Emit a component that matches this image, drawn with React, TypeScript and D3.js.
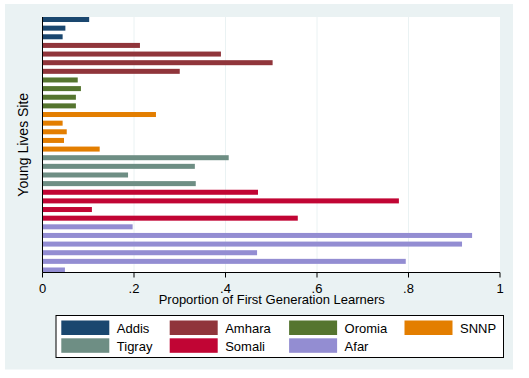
import React from "react";
import * as d3 from "d3";

const regions = ["Addis", "Amhara", "Oromia", "SNNP", "Tigray", "Somali", "Afar"];
const regionColors = ["#1a476f", "#90353b", "#55752f", "#e37e00", "#6e8e84", "#c10534", "#938dd2"];

const addis = [0.102, 0.05, 0.044];
const amhara = [0.213, 0.39, 0.503, 0.3];
const oromia = [0.077, 0.084, 0.073, 0.073];
const snnp = [0.248, 0.044, 0.053, 0.047, 0.125];
const tigray = [0.407, 0.333, 0.187, 0.335];
const somali = [0.471, 0.779, 0.108, 0.558];
const afar = [0.197, 0.939, 0.917, 0.469, 0.794, 0.049];

const xTicks = [0, 0.2, 0.4, 0.6, 0.8, 1];
const xTickLabels = ["0", ".2", ".4", ".6", ".8", "1"];
const xTitle = "Proportion of First Generation Learners";
const yTitle = "Young Lives Site";

const legendOrder = ["Addis", "Amhara", "Oromia", "SNNP", "Tigray", "Somali", "Afar"];

export default function App() {
  const W = 529, H = 378;
  const left = 42.5, right = 500, top = 17, bottom = 272.5;
  const font = "'Liberation Sans', Arial, sans-serif";

  const seriesValues = [addis, amhara, oromia, snnp, tigray, somali, afar];
  const rows: { region: string; value: number; id: number }[] = [];
  seriesValues.forEach((vals, ri) => {
    vals.forEach((v) => rows.push({ region: regions[ri], value: v, id: rows.length }));
  });

  const x = d3.scaleLinear().domain([0, 1]).range([left, right]);
  const y = d3
    .scaleBand<number>()
    .domain(rows.map((r) => r.id))
    .range([top, bottom])
    .paddingInner(0.42)
    .paddingOuter(0);
  const color = d3.scaleOrdinal<string, string>().domain(regions).range(regionColors);

  const legendCols = [61.3, 169.7, 289.1, 404.5];
  const legendRows = [320.5, 338.3];
  const keyW = 48, keyH = 14.5;

  return (
    <svg
      width={W}
      height={H}
      style={{ position: "absolute", left: 0, top: 0, background: "#ffffff" }}
      fontFamily={font}
    >
      <rect x={0} y={0} width={W} height={H} fill="#ffffff" />
      <rect x={5} y={4} width={508} height={365.5} fill="#eaf2f3" />
      <rect x={left} y={top} width={right - left} height={bottom - top} fill="#ffffff" />
      {xTicks.slice(1, -1).map((t) => (
        <line key={"g" + t} x1={x(t)} x2={x(t)} y1={top} y2={bottom} stroke="#eaf2f3" strokeWidth={1} />
      ))}
      {rows.map((r) => (
        <rect
          key={r.id}
          x={x(0)}
          y={y(r.id)}
          width={x(r.value) - x(0)}
          height={y.bandwidth()}
          fill={color(r.region)}
        />
      ))}
      <line x1={left} x2={left} y1={top} y2={bottom} stroke="#000" strokeWidth={1} />
      <line x1={left} x2={right} y1={bottom} y2={bottom} stroke="#000" strokeWidth={1} />
      {xTicks.map((t, i) => (
        <g key={"t" + t}>
          <line x1={x(t)} x2={x(t)} y1={bottom} y2={bottom + 5} stroke="#000" strokeWidth={1} />
          <text x={x(t)} y={293} fontSize={13} textAnchor="middle" fill="#000">
            {xTickLabels[i]}
          </text>
        </g>
      ))}
      <text x={(left + right) / 2 + 0.5} y={303.5} fontSize={13} textAnchor="middle" fill="#000">
        {xTitle}
      </text>
      <text
        transform={`translate(28,${(top + bottom) / 2}) rotate(-90)`}
        fontSize={14}
        textAnchor="middle"
        fill="#000"
      >
        {yTitle}
      </text>
      <rect x={56} y={315.5} width={447.5} height={42} fill="#ffffff" stroke="#000" strokeWidth={1} />
      {legendOrder.map((name, i) => {
        const c = i % 4;
        const r = Math.floor(i / 4);
        const kx = legendCols[c];
        const ky = legendRows[r];
        return (
          <g key={name}>
            <rect x={kx} y={ky} width={keyW} height={keyH} fill={color(name)} />
            <text x={kx + keyW + 7.5} y={ky + 12.5} fontSize={13} fill="#000">
              {name}
            </text>
          </g>
        );
      })}
    </svg>
  );
}
